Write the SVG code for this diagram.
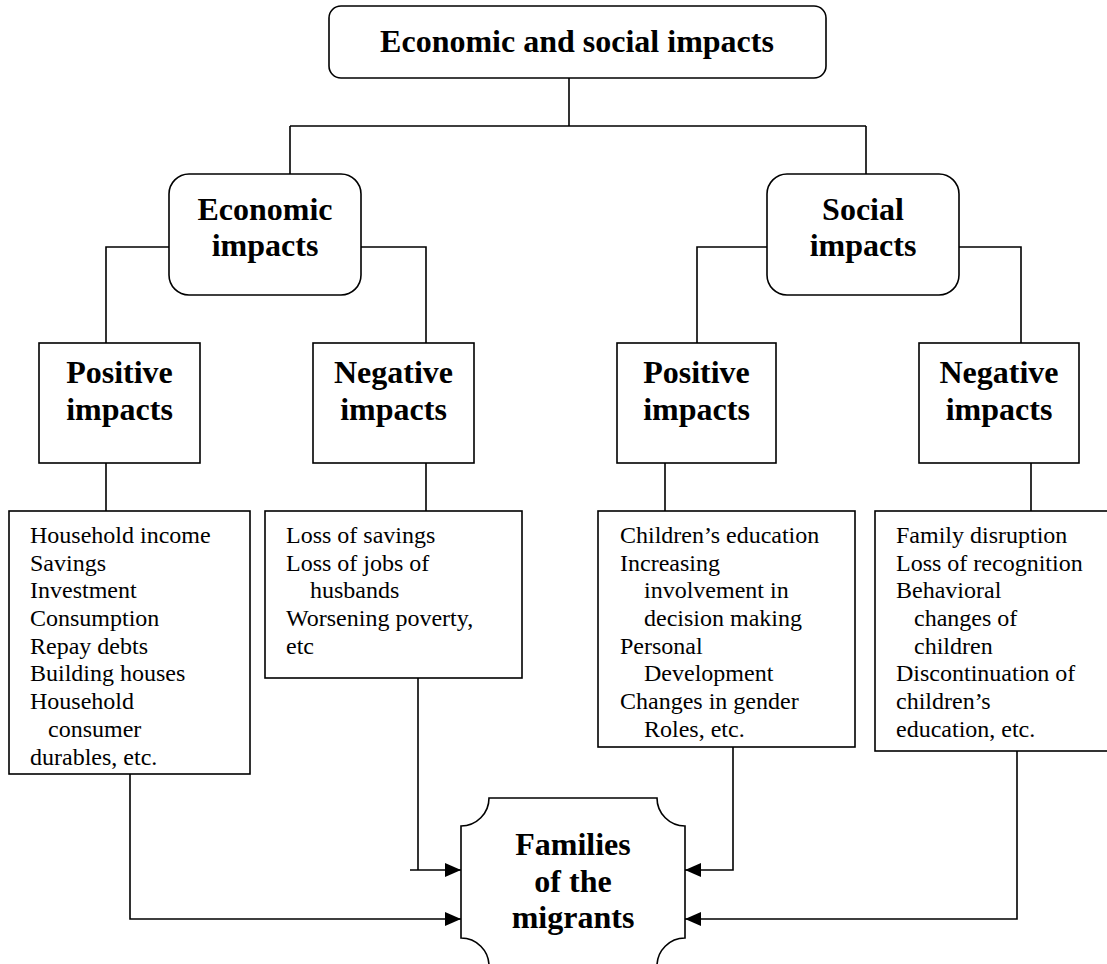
<svg xmlns="http://www.w3.org/2000/svg" width="1107" height="964" viewBox="0 0 1107 964">
<style>
.box{fill:#fff;stroke:#000;stroke-width:1.6}
.ln{fill:none;stroke:#000;stroke-width:1.6}
.h{font-family:"Liberation Serif","Times New Roman",serif;font-weight:bold;font-size:32px;text-anchor:middle;fill:#000}
.t{font-family:"Liberation Serif","Times New Roman",serif;font-size:24px;fill:#000}
</style>
<defs>
<marker id="arr" markerUnits="userSpaceOnUse" markerWidth="16" markerHeight="14" refX="16" refY="7" orient="auto">
<path d="M0,0 L16,7 L0,14 z" fill="#000"/>
</marker>
</defs>
<rect width="1107" height="964" fill="#fff"/>
<g id="connectors">
<path class="ln" d="M569,78 V126 M290,126 H866 M290,126 V174 M866,126 V174"/>
<path class="ln" d="M169,247 H106 V343 M361,247 H426 V343"/>
<path class="ln" d="M767,247 H697 V343 M959,247 H1021 V343"/>
<path class="ln" d="M106,463 V511 M426,463 V511 M665,463 V511 M1031,463 V511"/>
<path class="ln" d="M130,774 V919 H461" marker-end="url(#arr)"/>
<path class="ln" d="M418,678 V870"/>
<path class="ln" d="M410,870 H461" marker-end="url(#arr)"/>
<path class="ln" d="M733,747 V870 H685" marker-end="url(#arr)"/>
<path class="ln" d="M1017,751 V919 H685" marker-end="url(#arr)"/>
</g>
<g id="top">
<rect class="box" x="329" y="6" width="497" height="72" rx="12"/>
<text class="h" x="577" y="52">Economic and social impacts</text>
</g>
<g id="economic">
<rect class="box" x="169" y="174" width="192" height="121" rx="20"/>
<text class="h" x="265" y="220">Economic</text>
<text class="h" x="265" y="256">impacts</text>
</g>
<g id="social">
<rect class="box" x="767" y="174" width="192" height="121" rx="20"/>
<text class="h" x="863" y="220">Social</text>
<text class="h" x="863" y="256">impacts</text>
</g>
<g id="econ-positive">
<rect class="box" x="39" y="343" width="161" height="120"/>
<text class="h" x="119.5" y="383">Positive</text>
<text class="h" x="119.5" y="420">impacts</text>
</g>
<g id="econ-negative">
<rect class="box" x="313" y="343" width="161" height="120"/>
<text class="h" x="393.5" y="383">Negative</text>
<text class="h" x="393.5" y="420">impacts</text>
</g>
<g id="social-positive">
<rect class="box" x="617" y="343" width="159" height="120"/>
<text class="h" x="696.5" y="383">Positive</text>
<text class="h" x="696.5" y="420">impacts</text>
</g>
<g id="social-negative">
<rect class="box" x="919" y="343" width="160" height="120"/>
<text class="h" x="999" y="383">Negative</text>
<text class="h" x="999" y="420">impacts</text>
</g>
<g id="econ-positive-list">
<rect class="box" x="9" y="511" width="241" height="263"/>
<text class="t" x="30" y="543">Household income</text>
<text class="t" x="30" y="571">Savings</text>
<text class="t" x="30" y="598">Investment</text>
<text class="t" x="30" y="626">Consumption</text>
<text class="t" x="30" y="654">Repay debts</text>
<text class="t" x="30" y="681">Building houses</text>
<text class="t" x="30" y="709">Household</text>
<text class="t" x="48" y="737">consumer</text>
<text class="t" x="30" y="765">durables, etc.</text>
</g>
<g id="econ-negative-list">
<rect class="box" x="265" y="511" width="257" height="167"/>
<text class="t" x="286" y="543">Loss of savings</text>
<text class="t" x="286" y="571">Loss of jobs of</text>
<text class="t" x="310" y="598">husbands</text>
<text class="t" x="286" y="626">Worsening poverty,</text>
<text class="t" x="286" y="654">etc</text>
</g>
<g id="social-positive-list">
<rect class="box" x="598" y="511" width="257" height="236"/>
<text class="t" x="620" y="543">Children’s education</text>
<text class="t" x="620" y="571">Increasing</text>
<text class="t" x="644" y="598">involvement in</text>
<text class="t" x="644" y="626">decision making</text>
<text class="t" x="620" y="654">Personal</text>
<text class="t" x="644" y="681">Development</text>
<text class="t" x="620" y="709">Changes in gender</text>
<text class="t" x="644" y="737">Roles, etc.</text>
</g>
<g id="social-negative-list">
<rect class="box" x="875" y="511" width="250" height="240"/>
<text class="t" x="896" y="543">Family disruption</text>
<text class="t" x="896" y="571">Loss of recognition</text>
<text class="t" x="896" y="598">Behavioral</text>
<text class="t" x="914" y="626">changes of</text>
<text class="t" x="914" y="654">children</text>
<text class="t" x="896" y="681">Discontinuation of</text>
<text class="t" x="896" y="709">children’s</text>
<text class="t" x="896" y="737">education, etc.</text>
</g>
<g id="families">
<path class="box" d="M489,798 H657 A28,28 0 0 0 685,826 V938 A28,28 0 0 0 657,966 H489 A28,28 0 0 0 461,938 V826 A28,28 0 0 0 489,798 Z"/>
<text class="h" x="573" y="855">Families</text>
<text class="h" x="573" y="892">of the</text>
<text class="h" x="573" y="928">migrants</text>
</g>
</svg>
